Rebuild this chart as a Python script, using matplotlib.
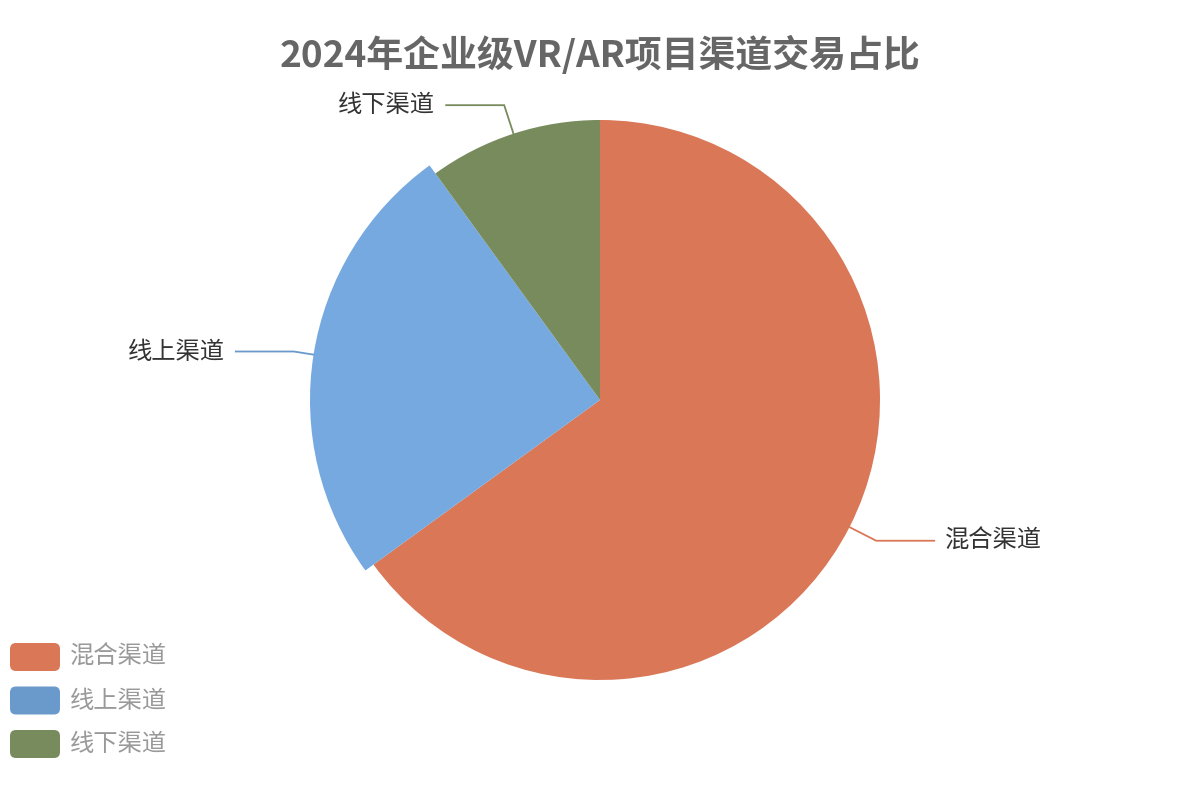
import numpy as np
import matplotlib
matplotlib.use("Agg")
import matplotlib.pyplot as plt
from matplotlib.patches import FancyBboxPatch

plt.rcParams['font.family'] = ['Noto Sans CJK SC', 'DejaVu Sans']

title = "2024年企业级VR/AR项目渠道交易占比"
categories = ["混合渠道", "线上渠道", "线下渠道"]
values = [65, 25, 10]
colors = ["#d97757", "#6a9acb", "#788b5c"]
emph_color = "#75a9df"
emph_index = 1

W, H = 1200, 800
fig = plt.figure(figsize=(12, 8), dpi=100)
ax = fig.add_axes([0, 0, 1, 1])
ax.set_xlim(0, W)
ax.set_ylim(0, H)
ax.set_aspect('equal')
ax.axis('off')

cx, cy, R = 600, 400, 280
face = [emph_color if i == emph_index else c for i, c in enumerate(colors)]
wedges, _ = ax.pie(values, colors=face, startangle=90, counterclock=False,
                   center=(cx, cy), radius=R, frame=True,
                   wedgeprops=dict(linewidth=0))
wedges[emph_index].set_radius(R + 10)
ax.set_xlim(0, W)
ax.set_ylim(0, H)
ax.axis('off')

total = sum(values)
start = 90.0
for i, (lab, v) in enumerate(zip(categories, values)):
    span = v / total * 360
    mid = np.deg2rad(start - span / 2)
    start -= span
    r0 = R + (10 if i == emph_index else 0)
    x0, y0 = cx + r0 * np.cos(mid), cy + r0 * np.sin(mid)
    x1, y1 = cx + (R + 30) * np.cos(mid), cy + (R + 30) * np.sin(mid)
    sgn = 1 if np.cos(mid) >= 0 else -1
    x2 = x1 + sgn * 58
    ax.plot([x0, x1, x2], [y0, y1, y1], color=colors[i], lw=1.3,
            solid_joinstyle='miter')
    ax.text(x2 + sgn * 11, y1, lab, ha='left' if sgn > 0 else 'right',
            va='center', fontsize=17.5, color='#333333')

fig.text(0.5, 1 - 55 / H, title, ha='center', va='center', fontsize=26.6,
         fontweight='bold', color='#666666')

# legend
for i, (lab, c) in enumerate(zip(categories, colors)):
    yc = H - (657 + i * 43.5)
    box = FancyBboxPatch((10, yc - 14), 50, 28,
                         boxstyle="round,pad=0,rounding_size=6",
                         facecolor=c, edgecolor='none')
    ax.add_patch(box)
    ax.text(70, yc, lab, ha='left', va='center', fontsize=17.5, color='#999999')

fig.savefig("out.png", dpi=100)
